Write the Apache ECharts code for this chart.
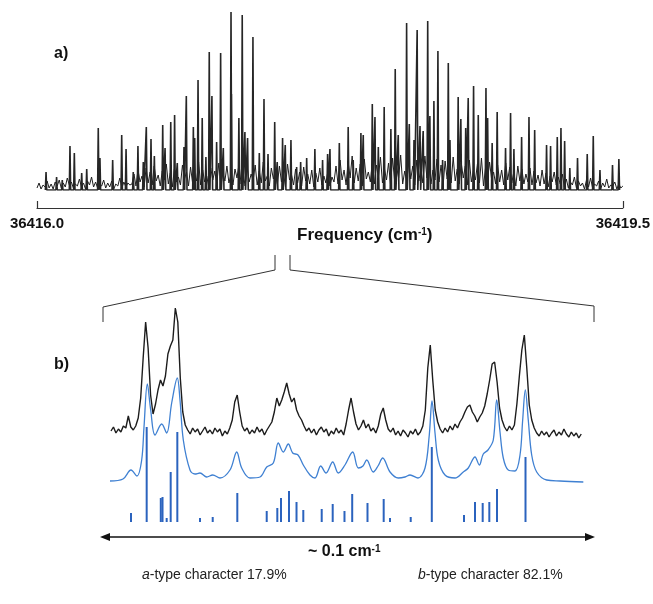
<!DOCTYPE html>
<html><head><meta charset="utf-8">
<script src="https://cdn.jsdelivr.net/npm/echarts/dist/echarts.min.js"></script>
<style>html,body{margin:0;padding:0;background:#fff}#c{width:653px;height:604px}</style>
</head><body><div id="c"></div>
<script>
// ---------- Panel a: survey spectrum (offset from 36416.0 cm-1) ----------
const axisStartA = 36416.0;
const axisTickLabelsA = [0, 3.5];
const peakFreqA = [0.054,0.117,0.151,0.197,0.223,0.267,0.297,0.366,0.376,0.452,
 0.506,0.532,0.575,0.603,0.635,0.653,0.681,0.701,0.751,0.765,
 0.799,0.822,0.838,0.878,0.892,0.934,0.942,0.962,0.987,1.009,
 1.029,1.045,1.073,1.097,1.113,1.159,1.162,1.206,1.226,1.242,
 1.258,1.290,1.328,1.356,1.380,1.420,1.435,1.467,1.483,1.517,
 1.551,1.575,1.611,1.660,1.706,1.736,1.750,1.806,1.859,1.889,
 1.935,1.949,2.003,2.019,2.039,2.074,2.114,2.140,2.158,2.208,
 2.224,2.252,2.271,2.288,2.307,2.334,2.347,2.371,2.395,2.423,
 2.457,2.467,2.516,2.532,2.561,2.576,2.608,2.636,2.682,2.692,
 2.719,2.749,2.799,2.829,2.849,2.895,2.939,2.973,3.044,3.068,
 3.108,3.130,3.152,3.183,3.229,3.287,3.323,3.363,3.438,3.476];
const peakIntA = [18,13,10,44,37,17,21,62,32,30,
 55,41,18,44,28,63,51,34,65,42,
 68,75,27,43,94,63,52,110,72,33,
 138,94,48,137,42,178,96,72,175,58,
 52,153,37,91,36,68,28,52,45,50,
 23,28,32,41,30,36,41,47,63,30,
 57,55,86,73,43,83,61,121,55,167,
 66,50,160,64,59,169,74,89,139,30,
 127,50,93,71,62,92,104,75,102,72,
 47,78,42,77,41,53,73,60,45,44,
 53,62,49,22,32,36,54,20,25,31];
// dense background lines, sampled uniformly across 0..3.5
const backgroundA = [
 2,7,1,5,3,9,2,6,1,8,4,10,2,7,3,12,5,8,2,6,4,11,3,7,1,9,5,13,3,8,2,6,4,10,2,7,3,9,1,6,4,12,2,8,3,7,5,
 6,16,4,20,8,14,3,22,7,18,5,24,9,15,4,19,10,26,6,17,
 3,21,8,13,5,25,11,18,4,23,7,16,9,28,5,20,8,14,3,22,
 10,19,6,27,4,17,9,24,7,15,5,21,12,26,6,18,4,23,8,16,
 10,25,5,19,7,28,9,14,4,22,11,20,6,24,8,17,3,26,10,15,
 5,21,7,18,4,23,9,16,6,20,3,17,8,22,5,14,7,19,4,13,
 8,24,6,30,10,20,5,28,12,34,7,22,9,26,4,31,11,18,8,29,
 6,25,13,33,7,21,10,27,5,32,9,23,12,35,6,19,8,28,11,24,
 5,30,9,22,7,34,12,26,6,20,10,31,8,25,4,29,11,23,7,33,
 9,21,6,27,12,24,5,30,8,19,10,26,7,32,4,22,9,28,11,18,
 6,25,8,20,5,27,10,23,7,18,4,24,9,21,6,16,8,22,5,19,
 7,15,4,20,6,17,3,14,8,18,5,13,6,16,
 3,11,2,8,5,13,2,9,4,7,1,10,3,12,2,6,4,9,1,7,3,11,2,5,4,8,1,6,2,4];

// ---------- Panel b: zoomed region (offset in cm-1, ~0.1 cm-1 wide) ----------
const expStartB = 0.00222, expStepB = 0.0005;
const expIntB = [9,13,7,11,8,14,12,24,13,10,14,22,42,82,118,92,45,26,36,50,
 60,54,64,86,94,100,132,118,62,28,15,10,6,12,8,11,5,9,13,7,
 10,6,12,8,11,4,9,6,12,20,38,45,28,14,9,12,6,10,7,13,
 8,11,5,10,14,18,28,42,34,40,48,57,46,38,42,30,24,20,14,9,
 12,7,11,5,10,13,8,11,4,9,6,12,7,10,5,16,30,42,28,16,
 10,14,20,12,16,9,12,7,14,26,32,20,11,8,12,5,9,4,10,7,
 3,9,6,11,5,8,14,30,72,95,60,30,18,11,7,12,8,14,10,16,
 12,18,22,28,33,35,28,24,18,23,27,34,46,60,76,78,58,32,20,13,
 9,14,10,15,36,64,90,105,72,35,20,12,7,4,9,5,8,3,7,10,
 4,8,5,11,6,3,8,4,7,2,6];
const simFreqB = [0.00202,0.00465,0.00626,0.00747,0.00842,0.00889,0.00956,0.01024,0.01111,0.01246,
 0.01347,0.01448,0.01562,0.01616,0.01683,0.01818,0.01919,0.02020,0.02156,0.02277,
 0.02424,0.02626,0.02762,0.02863,0.03030,0.03232,0.03368,0.03501,0.03602,0.03703,
 0.03804,0.03893,0.04000,0.04107,0.04242,0.04343,0.04459,0.04566,0.04701,0.04814,
 0.04949,0.05105,0.05218,0.05313,0.05388,0.05521,0.05616,0.05711,0.05859,0.06026,
 0.06162,0.06263,0.06424,0.06566,0.06652,0.06707,0.06768,0.06834,0.06970,0.07172,
 0.07339,0.07440,0.07576,0.07663,0.07743,0.07838,0.07945,0.08014,0.08081,0.08147,
 0.08248,0.08384,0.08485,0.08539,0.08592,0.08652,0.08721,0.08822,0.09024,0.09293,0.09764];
const simIntB = [4,6,15,9,25,58,101,75,50,61,
 52,82,107,85,45,15,11,12,8,10,
 7,15,33,17,7,8,18,22,42,33,
 41,32,30,20,10,7,19,12,23,12,
 20,33,17,19,25,13,19,27,13,7,
 8,10,7,17,50,84,52,25,10,7,
 13,17,28,20,31,35,45,85,53,27,
 15,14,30,65,95,65,30,13,5,4,3];
const stickFreqB = [0.00626,0.00943,0.01228,0.01263,0.01347,0.01428,0.01562,0.02020,0.02277,0.02774,
 0.03368,0.03582,0.03657,0.03818,0.03970,0.04107,0.04479,0.04701,0.04939,0.05095,
 0.05404,0.05731,0.05859,0.06277,0.06703,0.07354,0.07576,0.07731,0.07865,0.08020,0.08596];
const stickIntB = [9,95,24,25,4,50,90,4,5,29,
 11,14,24,31,20,12,13,18,11,28,
 19,23,4,5,75,7,20,19,20,33,65];

// ---------- build series data ----------
const peakLineA = [];
peakFreqA.forEach((f, i) => { peakLineA.push([f - 0.004, 0], [f, peakIntA[i]], [f + 0.004, 0]); });
const bgLineA = backgroundA.map((v, i) => [i * 3.5 / (backgroundA.length - 1), v]);
const expLineB = expIntB.map((v, i) => [expStartB + i * expStepB, v]);
const simLineB = simFreqB.map((f, i) => [f, simIntB[i]]);
const sticksB = stickFreqB.map((f, i) => [f, stickIntB[i]]);

const FONT = '"Liberation Sans", Arial, sans-serif';
const chart = echarts.init(document.getElementById('c'));
chart.setOption({
  animation: false,
  backgroundColor: '#fff',
  grid: [
    {left: 37, right: 30, top: 10, height: 180},
    {left: 100, right: 58, top: 300, height: 140},
    {left: 100, right: 58, top: 375, height: 110},
    {left: 100, right: 58, top: 422, height: 100}
  ],
  xAxis: [
    {gridIndex: 0, type: 'value', min: axisTickLabelsA[0], max: axisTickLabelsA[1], interval: 3.5, offset: 18,
     axisLine: {show: true, onZero: false, lineStyle: {color: '#333', width: 1.2}},
     axisTick: {show: true, inside: true, length: 7, lineStyle: {color: '#333', width: 1.2}},
     axisLabel: {show: true, margin: 8, fontSize: 15, fontWeight: 'bold', color: '#111', fontFamily: FONT,
       showMinLabel: true, showMaxLabel: true, formatter: v => (axisStartA + v).toFixed(1)},
     splitLine: {show: false}},
    {gridIndex: 1, type: 'value', min: 0, max: 0.1, show: false},
    {gridIndex: 2, type: 'value', min: 0, max: 0.1, show: false},
    {gridIndex: 3, type: 'value', min: 0, max: 0.1, show: false}
  ],
  yAxis: [
    {gridIndex: 0, type: 'value', min: 0, max: 180, show: false},
    {gridIndex: 1, type: 'value', min: 0, max: 140, show: false},
    {gridIndex: 2, type: 'value', min: 0, max: 110, show: false},
    {gridIndex: 3, type: 'value', min: 0, max: 100, show: false}
  ],
  series: [
    {type: 'line', xAxisIndex: 0, yAxisIndex: 0, data: bgLineA, showSymbol: false, lineStyle: {color: '#1e1e1e', width: 1}},
    {type: 'line', xAxisIndex: 0, yAxisIndex: 0, data: peakLineA, showSymbol: false, lineStyle: {color: '#262626', width: 1.6}},
    {type: 'line', xAxisIndex: 1, yAxisIndex: 1, data: expLineB, showSymbol: false, lineStyle: {color: '#1c1c1c', width: 1.4}},
    {type: 'line', xAxisIndex: 2, yAxisIndex: 2, data: simLineB, showSymbol: false, smooth: 0.35, lineStyle: {color: '#3f80d2', width: 1.3}},
    {type: 'bar', xAxisIndex: 3, yAxisIndex: 3, data: sticksB, barWidth: 2, itemStyle: {color: '#2b63be'}, z: 5}
  ],
  graphic: [
    {type: 'text', left: 54, top: 46, style: {text: 'a)', font: 'bold 16px ' + FONT, fill: '#111'}},
    {type: 'text', left: 54, top: 357, style: {text: 'b)', font: 'bold 16px ' + FONT, fill: '#111'}},
    {type: 'text', left: 297, top: 227, style: {text: '{m|Frequency (cm}{s|-1}{m|)}', rich: {
      m: {fontSize: 17, fontWeight: 'bold', fontFamily: FONT, fill: '#111', color: '#111'},
      s: {fontSize: 10, fontWeight: 'bold', fontFamily: FONT, fill: '#111', color: '#111', verticalAlign: 'top'}}}},
    {type: 'polyline', shape: {points: [[275, 255], [275, 270], [103, 307], [103, 322]]}, style: {stroke: '#333', lineWidth: 1, fill: null}},
    {type: 'polyline', shape: {points: [[290, 255], [290, 270], [594, 306], [594, 322]]}, style: {stroke: '#333', lineWidth: 1, fill: null}},
    {type: 'line', shape: {x1: 106, y1: 537, x2: 589, y2: 537}, style: {stroke: '#111', lineWidth: 1.6}},
    {type: 'polygon', shape: {points: [[100, 537], [110, 533], [110, 541]]}, style: {fill: '#111'}},
    {type: 'polygon', shape: {points: [[595, 537], [585, 533], [585, 541]]}, style: {fill: '#111'}},
    {type: 'text', left: 308, top: 544, style: {text: '{m|~ 0.1 cm}{s|-1}', rich: {
      m: {fontSize: 16, fontWeight: 'bold', fontFamily: FONT, fill: '#111', color: '#111'},
      s: {fontSize: 10, fontWeight: 'bold', fontFamily: FONT, fill: '#111', color: '#111', verticalAlign: 'top'}}}},
    {type: 'text', left: 142, top: 568, style: {text: '{i|a}{m|-type character 17.9%}', rich: {
      i: {fontSize: 14, fontStyle: 'italic', fontFamily: FONT, fill: '#222', color: '#222'},
      m: {fontSize: 14, fontFamily: FONT, fill: '#222', color: '#222'}}}},
    {type: 'text', left: 418, top: 568, style: {text: '{i|b}{m|-type character 82.1%}', rich: {
      i: {fontSize: 14, fontStyle: 'italic', fontFamily: FONT, fill: '#222', color: '#222'},
      m: {fontSize: 14, fontFamily: FONT, fill: '#222', color: '#222'}}}}
  ]
});
</script>
</body></html>
